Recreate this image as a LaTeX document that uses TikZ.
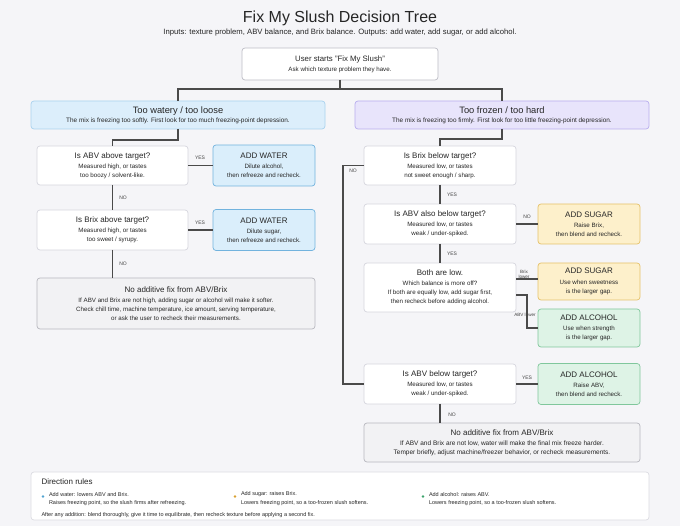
\documentclass[tikz,border=0pt]{standalone}
\usepackage{fontspec}
\setmainfont{Liberation Sans}
\usetikzlibrary{positioning}

\definecolor{bgcol}{HTML}{F5F5F8}
\definecolor{linkgray}{HTML}{4A4A4A}
\definecolor{cardline}{HTML}{D6D6DE}
\definecolor{startline}{HTML}{BDBDC6}
\definecolor{branchfill}{HTML}{DCEEFB}
\definecolor{branchline}{HTML}{A9D2EF}
\definecolor{frozenfill}{HTML}{E8E4FB}
\definecolor{frozenline}{HTML}{B8AEEE}
\definecolor{waterfill}{HTML}{DAEEFB}
\definecolor{waterline}{HTML}{72B3DE}
\definecolor{sugarfill}{HTML}{FDF0CB}
\definecolor{sugarline}{HTML}{E6C26A}
\definecolor{alcfill}{HTML}{DEF3E6}
\definecolor{alcline}{HTML}{80C79C}
\definecolor{nofixfill}{HTML}{F2F2F4}
\definecolor{nofixline}{HTML}{B8B8BF}
\definecolor{legline}{HTML}{DCDCE2}
\definecolor{textcol}{HTML}{262626}
\definecolor{labgray}{HTML}{444444}
\definecolor{waterdot}{HTML}{4FA3D1}
\definecolor{sugardot}{HTML}{D9A030}
\definecolor{alcdot}{HTML}{3BA36B}

\newcommand{\fsz}[2]{\fontsize{#1}{#2}\selectfont}

\begin{document}
\begin{tikzpicture}[x=1pt,y=-1pt,
  every node/.style={inner sep=0pt, outer sep=0pt, text=textcol},
  link/.style={draw=linkgray, line width=1.1pt},
  box/.style={rounded corners=3pt, line width=0.7pt, align=center, font=\fsz{6.2}{9}},
  quest/.style={box, draw=cardline, fill=white},
  water/.style={box, draw=waterline, fill=waterfill},
  sugar/.style={box, draw=sugarline, fill=sugarfill},
  alcohol/.style={box, draw=alcline, fill=alcfill},
  nofix/.style={box, draw=nofixline, fill=nofixfill, font=\fsz{6.2}{8.7}},
  wh/.style 2 args={minimum width=#1pt, minimum height=#2pt},
  yn/.style={font=\fsz{5}{6}, text=labgray},
  dot/.style={circle, minimum size=2.8pt},
  legtext/.style={anchor=west, font=\fsz{5.5}{6}},
]
\useasboundingbox (0,0) rectangle (680,526);
\fill[bgcol] (0,0) rectangle (680,526);

% heading
\node[font=\fsz{16}{18}] (title) at (340,18) {Fix My Slush Decision Tree};
\node[font=\fsz{7.7}{8}] (subtitle) at (340,33) {Inputs: texture problem, ABV balance, and Brix balance. Outputs: add water, add sugar, or add alcohol.};

\node[box, draw=startline, fill=white, wh={196}{32}, font=\fsz{6.2}{8}] (start) at (340,64)
  {{\fsz{7.8}{9}User starts "Fix My Slush"}\\[2pt]Ask which texture problem they have.};

% the two texture problems
\node[box, draw=branchline, fill=branchfill, wh={294}{28}, font=\fsz{6.4}{8}] (watery) at (178,115)
  {{\fsz{9.3}{10}Too watery / too loose}\\[0.8pt]The mix is freezing too softly. First look for too much freezing-point depression.};
\node[box, draw=frozenline, fill=frozenfill, wh={294}{28}, font=\fsz{6.4}{8}] (frozen) at (502,115)
  {{\fsz{9.3}{10}Too frozen / too hard}\\[0.8pt]The mix is freezing too firmly. First look for too little freezing-point depression.};

\draw[link] (start.south) -- ++(0,9) coordinate (split) -| (watery.north);
\draw[link] (split) -| (frozen.north);

% too watery side
\node[quest, wh={151}{39}] (hiabv) at (112.5,165.5)
  {{\fsz{8}{9}Is ABV above target?}\\[1.3pt]Measured high, or tastes\\too boozy / solvent-like.};
\node[water, wh={102}{41}] (water1) at (264,165.5)
  {{\fsz{8}{9}ADD WATER}\\[1.3pt]Dilute alcohol,\\then refreeze and recheck.};
\node[quest, wh={151}{40}] (hibrix) at (112.5,230)
  {{\fsz{8}{9}Is Brix above target?}\\[1.3pt]Measured high, or tastes\\too sweet / syrupy.};
\node[water, wh={102}{41}] (water2) at (264,230)
  {{\fsz{8}{9}ADD WATER}\\[1.3pt]Dilute sugar,\\then refreeze and recheck.};
\node[nofix, wh={278}{51}] (nofixL) at (176,303.5)
  {{\fsz{8}{9}No additive fix from ABV/Brix}\\[1.6pt]If ABV and Brix are not high, adding sugar or alcohol will make it softer.\\Check chill time, machine temperature, ice amount, serving temperature,\\or ask the user to recheck their measurements.};

\draw[link] (watery.south) -- ++(0,11) -| (hiabv.north);
\draw[link] (hiabv.east) -- (water1.west);
\draw[link] (hiabv.south) -- (hibrix.north);
\draw[link] (hibrix.east) -- (water2.west);
\draw[link] (hibrix.south) -- (hibrix.south |- nofixL.north);

\node[yn] (yesL1) at (200,158) {YES};
\node[yn] (noL1) at (123,198) {NO};
\node[yn] (yesL2) at (200,223) {YES};
\node[yn] (noL2) at (123,264) {NO};

% too frozen side
\node[quest, wh={152}{39}] (lobrix) at (440,165.5)
  {{\fsz{8}{9}Is Brix below target?}\\[1.3pt]Measured low, or tastes\\not sweet enough / sharp.};
\node[quest, wh={152}{40}] (loabv) at (440,224)
  {{\fsz{8}{9}Is ABV also below target?}\\[1.3pt]Measured low, or tastes\\weak / under-spiked.};
\node[sugar, wh={102}{40}] (sugar1) at (589,224)
  {{\fsz{8}{9}ADD SUGAR}\\[1.3pt]Raise Brix,\\then blend and recheck.};
\node[quest, wh={152}{49}] (bothlow) at (440,287.5)
  {{\fsz{8}{9}Both are low.}\\[1.3pt]Which balance is more off?\\If both are equally low, add sugar first,\\then recheck before adding alcohol.};
\node[sugar, wh={102}{37}] (sugar2) at (589,281.5)
  {{\fsz{8}{9}ADD SUGAR}\\[1.3pt]Use when sweetness\\is the larger gap.};
\node[alcohol, wh={102}{38}] (alc1) at (589,328)
  {{\fsz{8}{9}ADD ALCOHOL}\\[1.3pt]Use when strength\\is the larger gap.};
\node[quest, wh={152}{40}] (loabvonly) at (440,384)
  {{\fsz{8}{9}Is ABV below target?}\\[1.3pt]Measured low, or tastes\\weak / under-spiked.};
\node[alcohol, wh={102}{41}] (alc2) at (589,384)
  {{\fsz{8}{9}ADD ALCOHOL}\\[1.3pt]Raise ABV,\\then blend and recheck.};
\node[nofix, wh={276}{39}, font=\fsz{6.5}{9}] (nofixR) at (502,442.5)
  {{\fsz{8}{9}No additive fix from ABV/Brix}\\[1.3pt]If ABV and Brix are not low, water will make the final mix freeze harder.\\Temper briefly, adjust machine/freezer behavior, or recheck measurements.};

\draw[link] (frozen.south) -- ++(0,10) -| (lobrix.north);
\draw[link] (lobrix.west) -- ++(-21,0) |- (loabvonly.west);
\draw[link] (lobrix.south) -- (loabv.north);
\draw[link] (loabv.east) -- (sugar1.west);
\draw[link] (loabv.south) -- (bothlow.north);
\draw[link] ([yshift=8.5pt]bothlow.east) coordinate (brixlow) -- (brixlow -| sugar2.west);
\draw[link] ([yshift=-7.5pt]bothlow.east) -- ++(11,0) |- (alc1.west);
\draw[link] (loabvonly.east) -- (alc2.west);
\draw[link] (loabvonly.south) -- (loabvonly.south |- nofixR.north);

\node[yn] (noR1) at (353,171) {NO};
\node[yn] (yesR1) at (452,195) {YES};
\node[yn] (noR2) at (527,217) {NO};
\node[yn] (yesR2) at (452,254) {YES};
\node[yn, font=\fsz{4.6}{5.4}, align=center] (brixlab) at (524,274.5) {Brix\\lower};
\node[yn, font=\fsz{4.6}{5.4}] (abvlab) at (525,315) {ABV lower};
\node[yn] (yesR3) at (527,378) {YES};
\node[yn] (noR3) at (452,415) {NO};

% direction rules
\node[box, draw=legline, fill=white, wh={618}{48}] (legend) at (340,496) {};
\node[anchor=west, font=\fsz{8}{9}] (legtitle) at (41.5,482) {Direction rules};
\node[dot, fill=waterdot] (wdot) at (43,496.5) {};
\node[legtext] (wline1) at (49,494.5) {Add water: lowers ABV and Brix.};
\node[legtext] (wline2) at (49,503) {Raises freezing point, so the slush firms after refreezing.};
\node[dot, fill=sugardot] (sdot) at (235,496.5) {};
\node[legtext] (sline1) at (241,494.5) {Add sugar: raises Brix.};
\node[legtext] (sline2) at (241,503) {Lowers freezing point, so a too-frozen slush softens.};
\node[dot, fill=alcdot] (adot) at (423,496.5) {};
\node[legtext] (aline1) at (429,494.5) {Add alcohol: raises ABV.};
\node[legtext] (aline2) at (429,503) {Lowers freezing point, so a too-frozen slush softens.};
\node[legtext] (afterall) at (41.5,515) {After any addition: blend thoroughly, give it time to equilibrate, then recheck texture before applying a second fix.};
\end{tikzpicture}
\end{document}
